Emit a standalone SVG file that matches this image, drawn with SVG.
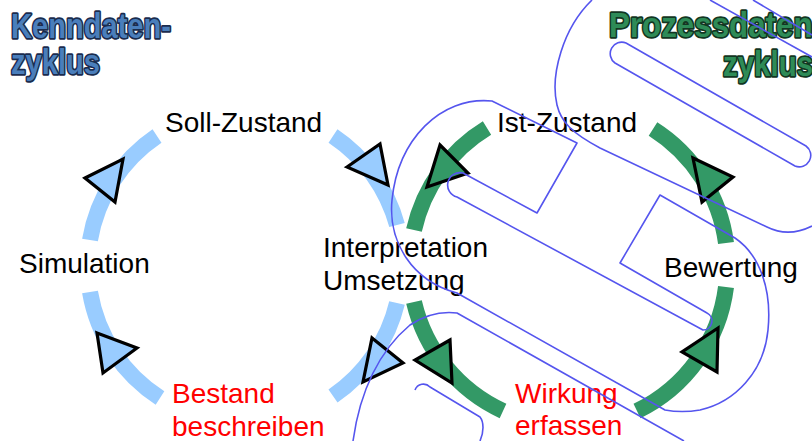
<svg xmlns="http://www.w3.org/2000/svg" width="812" height="441" viewBox="0 0 812 441">
  <style>
    .lbl { font-family: "Liberation Sans", Arial, sans-serif; font-size: 28px; fill: #000; }
    .red { fill: #ff0000; }
    .ttl { font-family: "Liberation Sans", Arial, sans-serif; font-weight: bold; font-size: 35px; stroke-width: 3.4; stroke-linejoin: round; paint-order: stroke; }
    .ttl-blue { fill: #4a7ebb; stroke: #1a2c4e; }
    .ttl-green { fill: #2e8b57; stroke: #123622; }
    .ring-blue { fill: none; stroke: #99ccff; stroke-width: 16; }
    .ring-green { fill: none; stroke: #339966; stroke-width: 16; }
    .tri-blue { fill: #99ccff; stroke: #000; stroke-width: 3.2; stroke-linejoin: miter; }
    .tri-green { fill: #339966; stroke: #000; stroke-width: 3.2; stroke-linejoin: miter; }
    .mark { fill: none; stroke: #5555ee; stroke-width: 1.6; stroke-linejoin: round; }
  </style>

  <rect width="812" height="441" fill="#ffffff"/>

  <!-- titles -->
  <g id="title-kenndaten">
    <text class="ttl ttl-blue" x="11" y="38" textLength="160" lengthAdjust="spacingAndGlyphs">Kenndaten-</text>
    <text class="ttl ttl-blue" x="11" y="74" textLength="89" lengthAdjust="spacingAndGlyphs">zyklus</text>
  </g>
  <g id="title-prozessdaten">
    <text class="ttl ttl-green" x="609" y="37" textLength="214" lengthAdjust="spacingAndGlyphs">Prozessdaten-</text>
    <text class="ttl ttl-green" x="723" y="76" textLength="90" lengthAdjust="spacingAndGlyphs">zyklus</text>
  </g>

  <!-- connectors: ring arcs and arrowheads -->
  <g id="connectors">
    <!-- Kenndaten cycle, centre (245,266) r 157 -->
    <path class="ring-blue" d="M157 136 A157 157 0 0 0 90 240"/>
    <path class="ring-blue" d="M90 292 A157 157 0 0 0 160 398"/>
    <path class="ring-blue" d="M333 396 A157 157 0 0 0 397 303"/>
    <path class="ring-blue" d="M397 225 A157 157 0 0 0 333 136"/>
    <!-- Prozessdaten cycle, centre (570,266) r 160 -->
    <path class="ring-green" d="M487 128 A160 160 0 0 0 414 230"/>
    <path class="ring-green" d="M414 302 A160 160 0 0 0 503 411"/>
    <path class="ring-green" d="M637 411 A160 160 0 0 0 726 287"/>
    <path class="ring-green" d="M726 243 A160 160 0 0 0 653 129"/>

    <polygon class="tri-blue" points="85,178 123,159 115,202"/>
    <polygon class="tri-blue" points="347,167 380,144 388,185"/>
    <polygon class="tri-blue" points="97,333 137,348 103,373"/>
    <polygon class="tri-blue" points="372,338 403,363 363,382"/>

    <polygon class="tri-green" points="440,145 468,173 427,187"/>
    <polygon class="tri-green" points="693,158 733,177 702,202"/>
    <polygon class="tri-green" points="718,328 682,352 717,372"/>
    <polygon class="tri-green" points="450,340 415,360 452,383"/>
  </g>

  <!-- stage labels -->
  <g id="soll-zustand"><text class="lbl" x="165" y="132">Soll-Zustand</text></g>
  <g id="simulation"><text class="lbl" x="19" y="273">Simulation</text></g>
  <g id="bestand"><text class="lbl red" x="172" y="403">Bestand</text><text class="lbl red" x="172" y="436">beschreiben</text></g>
  <g id="interpretation"><text class="lbl" x="323" y="257">Interpretation</text><text class="lbl" x="323" y="290">Umsetzung</text></g>
  <g id="ist-zustand"><text class="lbl" x="497" y="132">Ist-Zustand</text></g>
  <g id="bewertung"><text class="lbl" x="664" y="277">Bewertung</text></g>
  <g id="wirkung"><text class="lbl red" x="515" y="403">Wirkung</text><text class="lbl red" x="515" y="435">erfassen</text></g>

  <!-- overlay outline mark: three slanted bars of a letter S -->
  <g id="mark">
    <!-- top bar: slot and lower edge -->
    <path class="mark" d="M626 43 L806 146 A11.5 11.5 0 0 1 795 166 L615 63 A11.5 11.5 0 0 1 626 43 Z"/>
    <path class="mark" d="M592 0 C563 28 550 75 557 105 C561 122 572 133 600 148 L767 227 C785 236 800 232 812 226"/>
    <path class="mark" d="M710 0 L812 57"/>
    <path class="mark" d="M753 0 L812 35"/>
    <!-- middle bar with its slot and notches -->
    <path class="mark" d="M492 101 L577 143 L537 213 L463 173 A9 9 0 0 0 457 197 L703 330 A9 9 0 0 0 707 313 L620 263 L660 195 L735 238 C760 255 772 290 768 330 C764 372 735 402 700 410 C688 412 676 412 665 410 L457 293 C412 281 388 242 392 200 C398 140 440 96 492 101 Z"/>
    <!-- bottom bar -->
    <path class="mark" d="M353 441 C360 390 380 350 410 325 C425 315 440 311 457 313 L684 441"/>
    <path class="mark" d="M415 390 A9 9 0 0 1 430 387 L480 417 C484 422 484 432 480 441"/>
  </g>
</svg>
